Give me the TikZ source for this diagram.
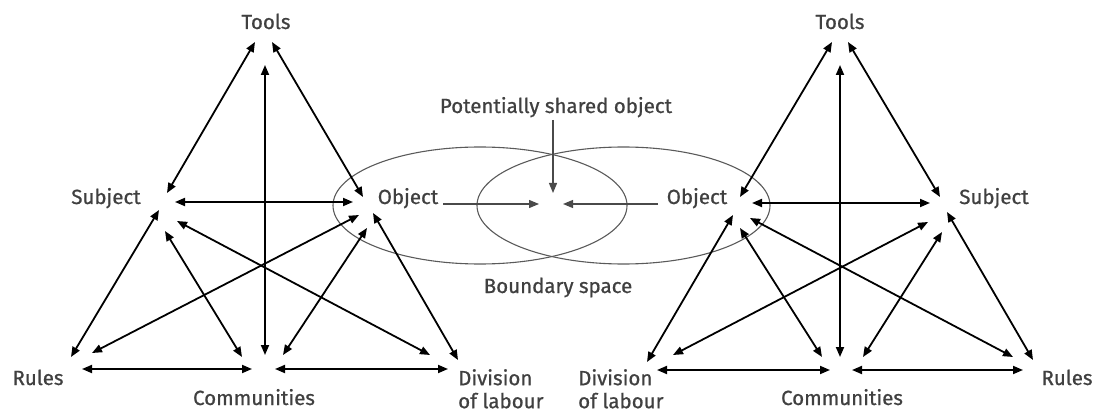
\documentclass[tikz,border=0pt]{standalone}
\usepackage{fontspec}
\setmainfont{Fira Sans}[UprightFeatures={FakeBold=0.8}]
\usetikzlibrary{arrows.meta}
\definecolor{labelgray}{HTML}{404040}
\definecolor{ovalgray}{HTML}{5A5A5A}
\definecolor{linegray}{HTML}{4A4A4A}
\begin{document}
\begin{tikzpicture}[x=1pt,y=-1pt,
  lbl/.style={font=\fontsize{20.5}{23}\selectfont, text=labelgray, inner sep=0pt, anchor=base},
  mlbl/.style={font=\fontsize{20.5}{23}\selectfont, text=labelgray, inner sep=0pt, align=left, anchor=north west},
  both/.style={line width=1.8pt, draw=black, {Triangle[length=10pt,width=8pt]}-{Triangle[length=10pt,width=8pt]}},
  thinarr/.style={line width=1.2pt, draw=linegray, -{Triangle[length=10pt,width=8pt]}},
  oval/.style={draw=ovalgray, line width=1.1pt}]
\useasboundingbox (0,0) rectangle (1097,414);

% ---------- labels ----------
\node[lbl] (LTools) at (266,29) {Tools};
\node[lbl] (LSubj)  at (106,204) {Subject};
\node[lbl] (LObj)   at (408,204) {Object};
\node[lbl] (LRules) at (38,385) {Rules};
\node[lbl] (LComm)  at (254,405) {Communities};
\node[mlbl] (LDiv)  at (458,369) {Division\\of labour};

\node[lbl] (RTools) at (840,29) {Tools};
\node[lbl] (RObj)   at (697,204) {Object};
\node[lbl] (RSubj)  at (994,204) {Subject};
\node[lbl] (RRules) at (1067,385) {Rules};
\node[lbl] (RComm)  at (842,405) {Communities};
\node[mlbl] (RDiv)  at (578,369) {Division\\of labour};

\node[lbl] (Shared)   at (556,113) {Potentially shared object};
\node[lbl] (Boundary) at (558,293) {Boundary space};

% ---------- boundary ellipses ----------
\draw[oval] (480,205.5) ellipse [x radius=147, y radius=58.5];
\draw[oval] (623.5,205.5) ellipse [x radius=146.5, y radius=58.5];

% ---------- end points, left system ----------
\coordinate (lt1) at (255,42);  \coordinate (lt2) at (272,42);  \coordinate (lt3) at (265,65);
\coordinate (ls1) at (167,193); \coordinate (ls2) at (175,202); \coordinate (ls3) at (159,210);
\coordinate (ls4) at (165,231); \coordinate (ls5) at (177,221);
\coordinate (lo1) at (363,197); \coordinate (lo2) at (353,202); \coordinate (lo3) at (359,215);
\coordinate (lo4) at (367,228); \coordinate (lo5) at (373,213);
\coordinate (lr1) at (71,357);  \coordinate (lr2) at (92,353);  \coordinate (lr3) at (82,369);
\coordinate (lc1) at (242,357); \coordinate (lc2) at (265,355); \coordinate (lc3) at (283,355);
\coordinate (lc4) at (252,369); \coordinate (lc5) at (275,369);
\coordinate (ld1) at (430,355); \coordinate (ld2) at (458,360); \coordinate (ld3) at (448,369);

\draw[both] (lt1) -- (ls1);
\draw[both] (lt2) -- (lo1);
\draw[both] (lt3) -- (lc2);
\draw[both] (ls2) -- (lo2);
\draw[both] (ls3) -- (lr1);
\draw[both] (ls4) -- (lc1);
\draw[both] (ls5) -- (ld1);
\draw[both] (lo3) -- (lr2);
\draw[both] (lo4) -- (lc3);
\draw[both] (lo5) -- (ld2);
\draw[both] (lr3) -- (lc4);
\draw[both] (lc5) -- (ld3);

% ---------- end points, right system ----------
\coordinate (rt1) at (832,42);  \coordinate (rt2) at (848,42);  \coordinate (rt3) at (840,65);
\coordinate (ro1) at (740,197); \coordinate (ro2) at (752,203); \coordinate (ro3) at (733,215);
\coordinate (ro4) at (740,228); \coordinate (ro5) at (750,218);
\coordinate (rs1) at (940,197); \coordinate (rs2) at (930,203); \coordinate (rs3) at (928,222);
\coordinate (rs4) at (942,232); \coordinate (rs5) at (947,212);
\coordinate (rd1) at (647,362); \coordinate (rd2) at (673,355); \coordinate (rd3) at (657,370);
\coordinate (rc1) at (822,357); \coordinate (rc2) at (840,357); \coordinate (rc3) at (863,357);
\coordinate (rc4) at (830,370); \coordinate (rc5) at (852,370);
\coordinate (rr1) at (1013,357); \coordinate (rr2) at (1033,360); \coordinate (rr3) at (1023,370);

\draw[both] (rt1) -- (ro1);
\draw[both] (rt2) -- (rs1);
\draw[both] (rt3) -- (rc2);
\draw[both] (ro2) -- (rs2);
\draw[both] (ro3) -- (rd1);
\draw[both] (ro4) -- (rc1);
\draw[both] (ro5) -- (rr1);
\draw[both] (rs3) -- (rd2);
\draw[both] (rs4) -- (rc3);
\draw[both] (rs5) -- (rr2);
\draw[both] (rd3) -- (rc4);
\draw[both] (rc5) -- (rr3);

% ---------- shared object arrows ----------
\coordinate (sharedFrom) at (553,120);
\coordinate (sharedTip) at (553,193);
\coordinate (leftTip)   at (539,204);
\coordinate (rightTip)  at (563,204);
\coordinate (lfrom) at (443,204);
\coordinate (rfrom) at (658,204);
\draw[thinarr] (sharedFrom) -- (sharedTip);
\draw[thinarr] (lfrom) -- (leftTip);
\draw[thinarr] (rfrom) -- (rightTip);
\end{tikzpicture}
\end{document}
